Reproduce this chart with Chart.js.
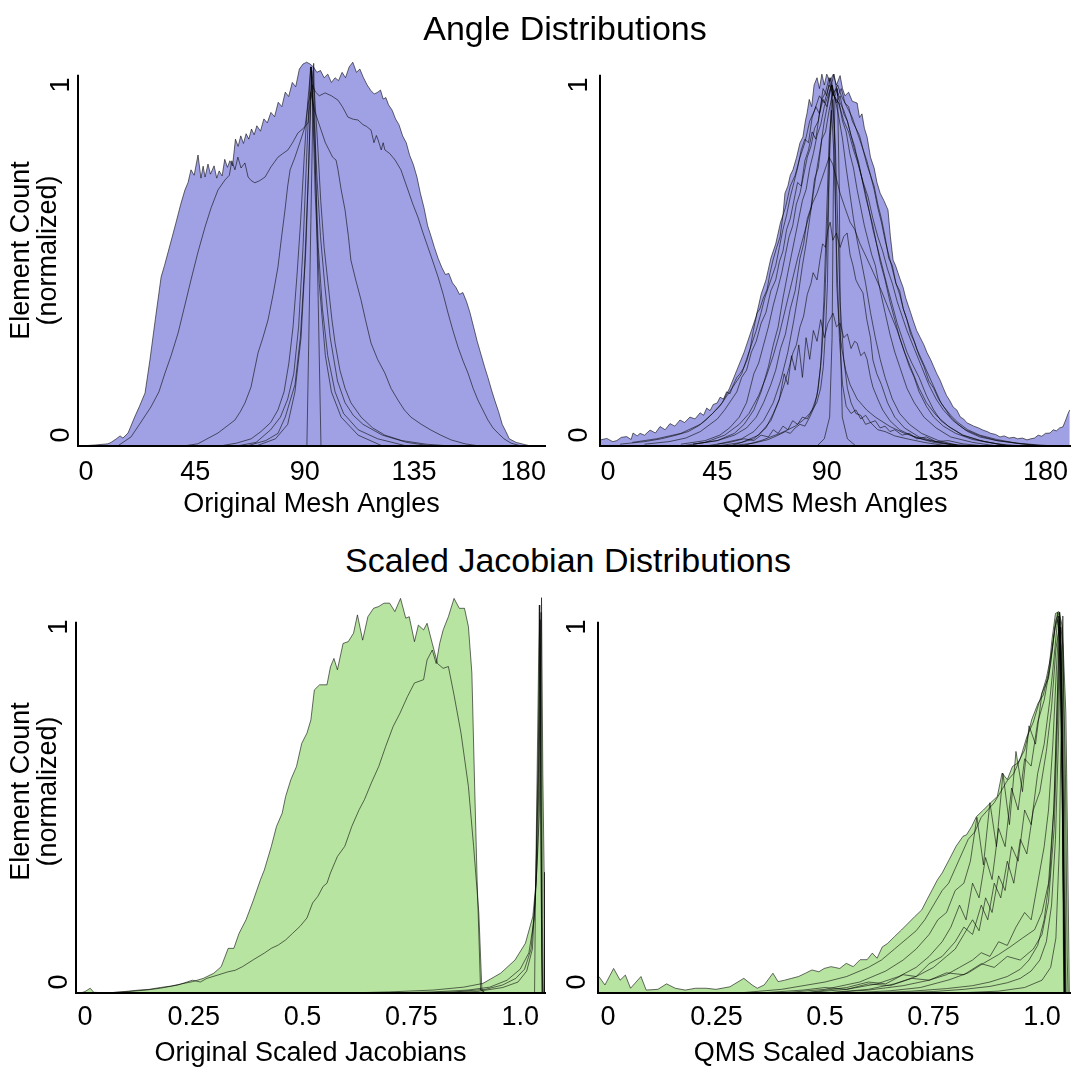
<!DOCTYPE html>
<html><head><meta charset="utf-8">
<script src="https://cdn.jsdelivr.net/npm/chart.js@4/dist/chart.umd.min.js"></script>
<style>
body{margin:0;background:#fff;width:1072px;height:1068px;position:relative;overflow:hidden;font-family:"Liberation Sans",Arial,sans-serif}
.t{position:absolute;font-size:34px;line-height:38px;color:#000;white-space:nowrap;transform:translateX(-50%);z-index:2}
canvas{position:absolute}
</style></head><body>
<div class="t" style="left:565px;top:9px">Angle Distributions</div>
<div class="t" style="left:568px;top:541px">Scaled Jacobian Distributions</div>
<canvas id="tl" width="560" height="490" style="left:0;top:40px"></canvas>
<canvas id="tr" width="512" height="490" style="left:560px;top:40px"></canvas>
<canvas id="bl" width="560" height="488" style="left:0;top:580px"></canvas>
<canvas id="br" width="512" height="488" style="left:560px;top:580px"></canvas>
<script>
// ---- tick labels ----
const ANGLE_TICKS = [0, 45, 90, 135, 180];
const ANGLE_TICK_LABELS = ['0', '45', '90', '135', '180'];
const JAC_TICKS = [0, 0.25, 0.5, 0.75, 1];
const JAC_TICK_LABELS = ['0', '0.25', '0.5', '0.75', '1.0'];
const Y_TICKS = [0, 1];
const Y_TICK_LABELS = ['0', '1'];

// ---- Original mesh angles (deg, normalized count) ----
const TL_A = [[-2,0],[4,0.003],[9,0.006],[10.3,0.01],[12.5,0.02],[14,0.028],[15.2,0.022],[17.3,0.036],[20,0.08],[22,0.11],[24.3,0.147],[26.3,0.238],[28.5,0.35],[30.9,0.468],[32.3,0.5],[33.7,0.535],[35.5,0.58],[37,0.618],[39,0.67],[40.7,0.709],[42,0.73],[43.2,0.765],[44.5,0.75],[46.1,0.806],[47.3,0.742],[48.2,0.775],[49,0.745],[50.2,0.781],[51.2,0.753],[52.7,0.776],[53.8,0.742],[54.8,0.762],[56,0.748],[57.1,0.794],[58.2,0.772],[59.2,0.79],[60.3,0.776],[61.5,0.85],[62.6,0.83],[63.7,0.859],[64.8,0.838],[65.9,0.865],[67,0.85],[68.1,0.878],[69.2,0.862],[70.3,0.887],[71.8,0.872],[73.2,0.906],[74.6,0.895],[76.1,0.924],[77.6,0.912],[79.1,0.952],[80.6,0.94],[82,0.98],[83.4,0.968],[84.9,1.007],[86.3,0.995],[87.8,1.044],[89.3,1.058],[90.8,1.063],[92.2,1.058],[93.6,1.05],[95,1.035],[96.5,1.04],[98,1.02],[99.5,1.03],[101,1.007],[102.5,1.02],[103.9,1.012],[105.4,1.035],[106.8,1.02],[108.3,1.05],[109.8,1.063],[111.3,1.035],[112.7,1.044],[114.2,1.02],[115.7,1.0],[117.2,0.985],[118.6,0.975],[120.1,0.98],[121.2,0.986],[122.3,0.961],[123.4,0.965],[124.5,0.945],[126,0.93],[127.4,0.906],[128.8,0.89],[130.3,0.859],[131.8,0.84],[133.2,0.805],[134.7,0.78],[136.2,0.745],[137.6,0.7],[139.1,0.66],[140.6,0.61],[142,0.581],[143.4,0.55],[144.9,0.52],[146.4,0.495],[147.9,0.475],[149.3,0.478],[150.8,0.452],[152.2,0.44],[153.7,0.42],[155.1,0.425],[156.6,0.4],[158,0.37],[159.5,0.33],[161,0.29],[162.5,0.255],[164,0.22],[165.4,0.19],[166.9,0.155],[168.3,0.125],[169.8,0.095],[171.3,0.06],[172.8,0.04],[174.2,0.02],[177,0.01],[180,0.005],[183,0]];
const TL_B = [[13,0],[18.5,0.025],[22,0.06],[26.7,0.108],[30,0.15],[32.5,0.202],[35,0.25],[37.9,0.313],[40.5,0.385],[43.2,0.46],[46,0.535],[49,0.607],[51.5,0.66],[54.3,0.709],[57.2,0.737],[59,0.75],[60,0.79],[61.3,0.765],[62.5,0.8],[63.8,0.77],[65.4,0.784],[66.7,0.745],[68,0.735],[69.5,0.729],[71.5,0.735],[73.7,0.745],[76.1,0.773],[79,0.8],[81,0.81],[83.1,0.82],[85,0.84],[87.2,0.867],[89.5,0.88],[91.4,0.895],[92.3,0.96],[93,1.0],[94.5,0.98],[96,0.97],[98.4,0.978],[101,0.97],[103.7,0.958],[105.5,0.94],[107.8,0.911],[110,0.905],[111.9,0.903],[114,0.89],[115.5,0.885],[117.3,0.875],[118.5,0.84],[119.5,0.86],[120.2,0.848],[121.5,0.82],[122.3,0.84],[123,0.82],[125,0.81],[127.2,0.792],[129.6,0.765],[132.5,0.709],[134.5,0.67],[136.6,0.634],[138.7,0.59],[140.7,0.551],[142.8,0.51],[144.9,0.468],[147,0.42],[149,0.368],[151,0.32],[153.1,0.274],[155.2,0.235],[157.2,0.202],[159.3,0.16],[161.3,0.127],[163.3,0.1],[165.4,0.072],[167.5,0.05],[169.5,0.036],[172,0.02],[174.9,0.008],[179,0]];
const TL_C = [[40,0],[46,0.006],[54.3,0.036],[58,0.055],[61.3,0.072],[63.5,0.095],[65.4,0.119],[67.9,0.163],[70.8,0.258],[72.8,0.3],[74.9,0.349],[77,0.42],[79,0.496],[80.5,0.58],[81.9,0.654],[83,0.72],[84,0.765],[86,0.8],[88,0.84],[90.1,0.884],[91.5,0.95],[92.5,0.98],[94,0.93],[95.5,0.9],[97,0.87],[98.5,0.84],[100,0.82],[101.5,0.8],[102.9,0.792],[103.7,0.765],[105,0.71],[106.6,0.654],[108,0.58],[109,0.515],[111,0.46],[113.2,0.404],[115,0.35],[117.3,0.285],[120,0.24],[123,0.202],[125.5,0.16],[128.4,0.127],[131,0.1],[133.7,0.08],[138,0.06],[142,0.044],[146,0.03],[150.2,0.017],[156,0.006],[162,0]];
const TL_D = [[55,0],[62,0.008],[68,0.02],[72,0.04],[76,0.065],[79,0.1],[81.5,0.15],[83.5,0.23],[85.2,0.33],[86.8,0.47],[88.3,0.62],[89.8,0.8],[91.2,0.95],[92.6,1.05],[94,0.98],[95.3,0.84],[96.6,0.68],[98,0.55],[99.6,0.45],[101.2,0.35],[102.5,0.285],[104.5,0.21],[106.6,0.16],[109,0.12],[113.2,0.08],[118,0.05],[123,0.03],[130,0.015],[140,0.005],[150,0]];
const TL_E = [[62,0],[70,0.01],[76,0.045],[80,0.08],[83,0.13],[85.5,0.2],[87.5,0.33],[89.3,0.55],[90.8,0.8],[92.4,1.05],[93.8,0.92],[95,0.75],[96.5,0.58],[98.2,0.45],[100.5,0.3],[103.5,0.18],[106.6,0.12],[110,0.085],[114,0.06],[122,0.03],[132,0.01],[142,0]];
const TL_F = [[66,0],[74,0.015],[79,0.035],[82,0.08],[86,0.17],[88.2,0.3],[90,0.5],[91.5,0.75],[92.8,1.05],[94.2,0.8],[95.6,0.55],[97.3,0.38],[99.5,0.25],[102.5,0.15],[106,0.09],[112,0.045],[120,0.02],[132,0]];
const TL_G = [[70,0],[78,0.02],[83,0.06],[86,0.15],[88.5,0.3],[90.5,0.55],[91.8,0.8],[92.9,1.04],[94.3,0.7],[96,0.45],[98.5,0.25],[101,0.15],[105,0.08],[112,0.03],[122,0]];
const TL_T = [[90.9,0],[93.7,1.06],[96.7,0]];

// ---- QMS mesh angles ----
const TR_1 = [[-3,0.017],[-0.5,0.021],[2,0.012],[3.6,0.015],[5.5,0.024],[7.7,0.026],[9.5,0.018],[10.3,0.036],[12,0.028],[13.2,0.035],[15,0.03],[17.3,0.044],[19.5,0.036],[21.4,0.054],[23.5,0.045],[25.5,0.062],[27.5,0.055],[29.6,0.072],[31.5,0.065],[33.7,0.08],[35.8,0.075],[37.9,0.092],[39.3,0.085],[40.6,0.105],[42,0.098],[43.3,0.115],[44.9,0.119],[46.1,0.135],[47.5,0.13],[48.8,0.15],[50.2,0.145],[51.6,0.17],[53,0.19],[54.3,0.2],[55.7,0.215],[57.2,0.238],[58.5,0.27],[59.8,0.32],[61.3,0.368],[62.5,0.38],[63.9,0.41],[65.4,0.432],[66.7,0.48],[67.9,0.515],[69.4,0.55],[70.8,0.579],[72,0.64],[72.8,0.7],[74,0.72],[75,0.75],[76.1,0.765],[77.6,0.8],[79,0.84],[80.2,0.856],[81.2,0.9],[81.9,0.922],[82.8,0.96],[83.8,0.94],[84.8,1.0],[86,1.02],[87,0.99],[88,1.03],[89,1.0],[90,1.03],[91.3,1.01],[92.7,1.03],[94,1.0],[95.5,1.026],[96.5,0.99],[97.5,0.97],[99,0.98],[100.5,0.955],[102.5,0.95],[103.5,0.91],[104.5,0.92],[105.5,0.88],[106.6,0.856],[108,0.8],[109.5,0.77],[110.7,0.729],[112,0.7],[113.5,0.68],[115.2,0.654],[116.2,0.58],[117.3,0.515],[118.3,0.5],[119.3,0.48],[120.3,0.46],[121.4,0.44],[122.5,0.41],[123.5,0.39],[124.5,0.37],[125.5,0.349],[127,0.32],[128.5,0.3],[130,0.28],[131.3,0.258],[132.7,0.24],[134,0.22],[135.3,0.2],[136.6,0.183],[138,0.16],[139.3,0.14],[140.7,0.125],[142,0.108],[143.5,0.1],[145,0.08],[146.3,0.075],[147.7,0.064],[149,0.06],[150.5,0.055],[152.5,0.05],[154.3,0.044],[156,0.04],[157.5,0.035],[159.5,0.032],[161.3,0.025],[163,0.028],[165,0.022],[167,0.024],[168.5,0.02],[170.5,0.022],[172.4,0.017],[174,0.02],[175.5,0.022],[177,0.03],[178.5,0.027],[180,0.035],[181.9,0.036],[183.2,0.045],[184.5,0.042],[185.8,0.05],[187.2,0.053],[188.5,0.075],[189.3,0.09],[190,0.1]];
const TR_2 = [[5,0.005],[15,0.012],[22,0.02],[28,0.03],[33,0.04],[37,0.055],[40,0.07],[43,0.09],[46,0.11],[49,0.14],[51,0.16],[53,0.18],[55,0.2],[57,0.24],[59,0.28],[61,0.32],[63,0.37],[64.5,0.41],[66,0.44],[67.5,0.47],[69,0.5],[70.5,0.55],[72,0.6],[73.5,0.64],[75,0.69],[76.5,0.73],[78,0.77],[79.5,0.82],[81,0.85],[82.5,0.84],[84,0.91],[85.5,0.94],[87,0.92],[88.5,0.99],[90,0.97],[91.5,1.02],[93,0.98],[94.5,1.0],[96,0.97],[97.5,0.95],[99,0.93],[100.5,0.91],[102,0.88],[103.5,0.85],[105,0.82],[106.5,0.78],[108,0.75],[109.5,0.71],[111,0.66],[112.5,0.62],[114,0.57],[115.5,0.53],[117,0.49],[118.5,0.45],[120,0.42],[121.5,0.38],[123,0.35],[125,0.31],[127,0.27],[129,0.24],[131,0.21],[133,0.18],[135,0.15],[137,0.12],[139,0.1],[141,0.08],[144,0.06],[148,0.04],[153,0.025],[160,0.015],[168,0.008],[177,0.003],[184,0]];
const TR_3 = [[15,0.005],[25,0.012],[32,0.022],[38,0.04],[42,0.06],[45,0.075],[48,0.1],[51,0.13],[53,0.15],[55,0.19],[57,0.21],[59,0.26],[61,0.29],[63,0.34],[65,0.37],[67,0.43],[69,0.46],[70.5,0.51],[72,0.54],[73.5,0.6],[75,0.63],[76.5,0.68],[78,0.73],[79.5,0.72],[81,0.79],[82.5,0.82],[84,0.87],[85.5,0.85],[87,0.92],[88.5,0.96],[90,0.94],[91.5,0.99],[93,1.03],[94.5,0.97],[96,0.99],[97.5,0.95],[99,0.94],[100.5,0.9],[102,0.88],[103.5,0.86],[105,0.82],[106.5,0.79],[108,0.75],[109.5,0.72],[111,0.67],[112.5,0.63],[114,0.58],[115.5,0.52],[117,0.5],[118.5,0.45],[120,0.43],[121.5,0.38],[123,0.35],[124.5,0.31],[126,0.29],[128,0.25],[130,0.22],[132,0.18],[134,0.16],[136,0.13],[138,0.11],[141,0.085],[144,0.065],[148,0.045],[153,0.03],[160,0.018],[168,0.008],[178,0]];
const TR_4 = [[30,0.005],[40,0.015],[46,0.03],[50,0.05],[54,0.08],[57,0.12],[60,0.2],[62,0.23],[64,0.28],[66,0.33],[68,0.39],[70,0.44],[71.5,0.48],[73,0.53],[74.5,0.58],[76,0.61],[77.5,0.67],[79,0.7],[80.5,0.75],[82,0.8],[83.5,0.83],[85,0.88],[86.5,0.9],[88,0.96],[89.5,0.98],[91,1.02],[92.5,0.97],[94,0.99],[95.5,0.95],[97,0.93],[98.5,0.9],[100,0.86],[101.5,0.83],[103,0.78],[104.5,0.74],[106,0.69],[107.5,0.65],[109,0.6],[110.5,0.56],[112,0.52],[113.5,0.48],[115,0.44],[117,0.39],[119,0.34],[121,0.3],[123,0.26],[125,0.23],[128,0.19],[131,0.14],[134,0.1],[137,0.07],[141,0.05],[146,0.03],[153,0.015],[165,0]];
const TR_5 = [[35,0.005],[45,0.015],[52,0.035],[56,0.06],[60,0.1],[63,0.15],[66,0.22],[68,0.28],[70,0.33],[72,0.41],[74,0.48],[75.5,0.53],[77,0.58],[78.5,0.63],[80,0.68],[81.5,0.71],[83,0.77],[84.5,0.81],[86,0.86],[87.5,0.89],[89,0.94],[90.5,0.97],[92,1.0],[93.5,0.96],[95,0.95],[96.5,0.9],[98,0.87],[99.5,0.81],[101,0.77],[102.5,0.71],[104,0.66],[105.5,0.61],[107,0.57],[108.5,0.53],[110,0.5],[112,0.43],[114,0.37],[116,0.31],[118,0.26],[120,0.22],[123,0.16],[126,0.12],[130,0.08],[135,0.05],[141,0.025],[150,0.01],[160,0]];
const TR_6 = [[35,0.005],[45,0.015],[52,0.03],[57,0.05],[61,0.08],[64,0.12],[67,0.17],[69,0.21],[71,0.27],[73,0.31],[75,0.38],[77,0.43],[79,0.52],[80.5,0.56],[82,0.63],[83.5,0.66],[85,0.74],[86.5,0.77],[88,0.85],[89.5,0.87],[91,0.93],[92.5,0.98],[94,0.95],[95.5,0.97],[97,0.92],[98.5,0.9],[100,0.86],[101.5,0.82],[103,0.79],[104.5,0.74],[106,0.7],[107.5,0.65],[109,0.61],[110.5,0.56],[112,0.51],[114,0.46],[116,0.4],[118,0.35],[120,0.3],[122,0.26],[124,0.22],[126,0.19],[128,0.15],[131,0.11],[134,0.08],[138,0.055],[143,0.035],[150,0.018],[160,0.006],[170,0]];
const TR_7 = [[45,0.005],[55,0.02],[60,0.04],[64,0.07],[68,0.12],[71,0.18],[74,0.26],[76.5,0.35],[78.5,0.43],[80,0.5],[81.5,0.56],[83,0.63],[84.5,0.7],[86,0.77],[87.5,0.83],[89,0.9],[90.5,0.95],[92,1.0],[93.5,0.96],[95,0.91],[96.5,0.85],[98,0.77],[99.5,0.7],[101,0.63],[102.5,0.57],[104,0.52],[106,0.45],[108,0.37],[110,0.3],[112,0.24],[114,0.19],[117,0.13],[120,0.09],[124,0.06],[129,0.035],[136,0.015],[145,0]];
const TR_8 = [[45,0],[55,0.01],[62,0.03],[67,0.07],[70,0.12],[72.5,0.17],[74.2,0.21],[76.1,0.258],[77.5,0.28],[79,0.33],[80.5,0.36],[82,0.42],[83.5,0.45],[84.4,0.48],[86,0.46],[87.2,0.515],[88.3,0.56],[89.5,0.55],[90.5,0.6],[91.4,0.62],[92.5,0.57],[94,0.59],[95.5,0.55],[97,0.58],[98.4,0.59],[99.6,0.53],[100.8,0.5],[102,0.46],[103.5,0.44],[104.9,0.424],[106.5,0.35],[108,0.3],[109,0.238],[110.6,0.2],[112.5,0.17],[115,0.12],[118,0.08],[122,0.05],[128,0.025],[136,0.01],[145,0]];
const TR_9 = [[50,0],[60,0.02],[65,0.05],[68,0.09],[70.5,0.13],[72.5,0.2],[74,0.17],[75.5,0.25],[77,0.21],[78.5,0.28],[80,0.19],[81.5,0.3],[83,0.24],[84.5,0.32],[86,0.29],[87.5,0.35],[89,0.3],[90.5,0.34],[92.6,0.368],[94,0.33],[95.5,0.34],[97,0.3],[98.5,0.31],[100,0.27],[101.5,0.29],[102.5,0.285],[104,0.25],[105.5,0.26],[106.6,0.24],[108,0.19],[109,0.163],[111,0.13],[113,0.1],[116,0.07],[120,0.045],[126,0.025],[134,0.01],[145,0]];
const TR_10 = [[55,0],[63,0.015],[68,0.028],[70.8,0.035],[74,0.045],[77,0.055],[80.4,0.072],[83,0.09],[85.9,0.12],[87.5,0.16],[88.6,0.22],[89.5,0.32],[90.3,0.45],[91.1,0.82],[92.2,1.0],[93.4,0.82],[94.1,0.45],[95,0.34],[96.2,0.27],[97.8,0.21],[99.6,0.17],[102.5,0.13],[106.4,0.1],[110,0.08],[116,0.054],[122,0.035],[130,0.018],[140,0.006],[150,0]];
const TR_11 = [[86,0],[89,0.02],[91.2,0.08],[92.2,0.3],[92.7,0.7],[93.4,0.97],[94.4,0.99],[95.2,0.7],[95.6,0.3],[96.4,0.08],[98.5,0.02],[102,0]];
const TR_12 = [[40,0],[50,0.01],[56,0.02],[60,0.015],[63,0.03],[66,0.025],[68,0.045],[70,0.035],[72,0.055],[74,0.045],[76,0.07],[78,0.06],[80,0.08],[82,0.075],[84,0.1],[86,0.14],[87.5,0.22],[88.8,0.4],[90,0.65],[91,0.85],[92,0.93],[93,0.8],[94,0.55],[95.2,0.3],[96.5,0.17],[98,0.11],[100,0.09],[102,0.1],[104,0.075],[106,0.085],[108,0.065],[110,0.07],[112,0.05],[114,0.055],[116,0.04],[118,0.045],[121,0.03],[124,0.035],[127,0.02],[131,0.025],[135,0.012],[140,0.015],[146,0.006],[155,0]];
const TR_13 = [[50,0],[60,0.008],[66,0.018],[70,0.03],[73,0.04],[75,0.035],[77,0.05],[79,0.06],[81,0.055],[83,0.08],[85,0.11],[86.5,0.16],[88,0.26],[89.3,0.42],[90.5,0.66],[91.5,0.86],[92.5,0.96],[93.5,0.84],[94.5,0.62],[95.5,0.4],[97,0.24],[98.5,0.16],[100,0.12],[102,0.09],[104,0.085],[106,0.06],[108,0.065],[111,0.045],[114,0.04],[118,0.028],[123,0.02],[130,0.01],[140,0]];
const TR_14 = [[30,0],[40,0.01],[48,0.03],[54,0.06],[58,0.09],[62,0.14],[65,0.19],[68,0.25],[70.5,0.31],[73,0.38],[75.5,0.45],[78,0.52],[80,0.57],[82,0.62],[84,0.67],[86,0.7],[88,0.74],[89.5,0.77],[91,0.8],[92.5,0.78],[94,0.74],[95.5,0.7],[97.5,0.66],[99.6,0.62],[101.5,0.6],[103.7,0.56],[106.5,0.52],[109.2,0.48],[112.5,0.43],[116,0.37],[119,0.32],[122,0.26],[125,0.21],[128,0.16],[131,0.12],[135,0.085],[140,0.055],[146,0.03],[155,0.012],[165,0]];
const TR_15 = [[10,0.01],[20,0.02],[30,0.035],[38,0.06],[43,0.09],[47,0.12],[50,0.16],[53,0.21],[56,0.26],[58.5,0.31],[61,0.36],[63,0.42],[65,0.46],[67,0.52],[69,0.56],[71,0.62],[73,0.66],[75,0.72],[77,0.75],[79,0.8],[81,0.84],[83,0.9],[85,0.93],[87,0.97],[89,0.95],[91,1.0],[93,0.97],[95,0.95],[97,0.9],[99,0.87],[101,0.82],[103,0.78],[105,0.73],[107,0.69],[109,0.63],[111,0.58],[113,0.54],[115,0.49],[117,0.45],[119,0.4],[121,0.36],[123,0.32],[126,0.27],[129,0.22],[132,0.17],[135,0.13],[138,0.1],[142,0.07],[147,0.045],[153,0.028],[160,0.015],[170,0.006],[180,0]];

// ---- Original scaled Jacobians ----
const BL_1 = [[-0.01,0],[0,0.004],[0.012,0.013],[0.02,0.002],[0.035,0.001],[0.06,0.001],[0.091,0.004],[0.124,0.008],[0.148,0.01],[0.173,0.015],[0.198,0.019],[0.222,0.025],[0.247,0.031],[0.272,0.04],[0.296,0.054],[0.313,0.072],[0.329,0.122],[0.342,0.122],[0.354,0.163],[0.37,0.2],[0.387,0.254],[0.403,0.309],[0.412,0.336],[0.428,0.4],[0.44,0.455],[0.453,0.491],[0.461,0.537],[0.473,0.583],[0.486,0.619],[0.498,0.682],[0.51,0.71],[0.519,0.746],[0.527,0.828],[0.539,0.842],[0.556,0.842],[0.564,0.891],[0.572,0.914],[0.58,0.883],[0.593,0.955],[0.605,0.96],[0.617,0.983],[0.626,1.033],[0.638,0.964],[0.65,1.028],[0.663,1.051],[0.675,1.056],[0.687,1.065],[0.7,1.065],[0.712,1.042],[0.725,1.078],[0.737,1.024],[0.745,1.028],[0.757,0.96],[0.766,1.005],[0.778,0.992],[0.786,1.01],[0.798,0.955],[0.81,0.9],[0.823,0.887],[0.835,0.892],[0.848,0.814],[0.864,0.71],[0.881,0.564],[0.893,0.4],[0.905,0.218],[0.912,0.008],[0.92,0]];
const BL_2 = [[0.049,0],[0.1,0.004],[0.14,0.008],[0.173,0.013],[0.214,0.022],[0.247,0.035],[0.265,0.03],[0.28,0.04],[0.305,0.049],[0.329,0.058],[0.345,0.062],[0.362,0.072],[0.387,0.091],[0.412,0.109],[0.428,0.122],[0.444,0.131],[0.461,0.145],[0.477,0.163],[0.494,0.182],[0.51,0.205],[0.523,0.246],[0.535,0.264],[0.547,0.291],[0.556,0.3],[0.564,0.328],[0.58,0.373],[0.597,0.401],[0.613,0.455],[0.63,0.501],[0.642,0.528],[0.658,0.574],[0.675,0.619],[0.691,0.674],[0.708,0.728],[0.724,0.765],[0.741,0.81],[0.757,0.847],[0.778,0.856],[0.786,0.91],[0.798,0.937],[0.807,0.9],[0.815,0.955],[0.823,0.992],[0.835,1.028],[0.848,1.078],[0.86,1.051],[0.872,1.051],[0.881,1.001],[0.889,0.874],[0.895,0.582],[0.901,0.31],[0.909,0.008],[0.92,0]];
const BL_3 = [[0.6,0],[0.7,0.003],[0.8,0.008],[0.87,0.016],[0.914,0.026],[0.955,0.054],[0.988,0.09],[1.012,0.136],[1.029,0.209],[1.037,0.309],[1.044,0.49],[1.047,0.855],[1.049,1.08],[1.052,0.6],[1.055,0.33],[1.056,0]];
const BL_4 = [[0.7,0],[0.8,0.003],[0.88,0.008],[0.93,0.016],[0.97,0.035],[1.0,0.065],[1.02,0.11],[1.032,0.2],[1.04,0.38],[1.045,0.75],[1.048,1.04],[1.051,0.2],[1.053,0]];
const BL_5 = [[0.75,0],[0.85,0.003],[0.92,0.01],[0.96,0.022],[0.99,0.04],[1.01,0.065],[1.025,0.12],[1.035,0.26],[1.042,0.6],[1.046,1.02],[1.05,0.1],[1.052,0]];
const BL_6 = [[0.8,0],[0.9,0.004],[0.96,0.015],[0.995,0.03],[1.015,0.06],[1.028,0.12],[1.036,0.3],[1.042,0.7],[1.045,1.06],[1.049,0.2],[1.051,0]];
const BL_7 = [[1.033,0],[1.035,0.25],[1.044,1.06],[1.05,0]];

// ---- QMS scaled Jacobians ----
const BR_1 = [[-0.021,0.045],[-0.007,0.022],[0.013,0.067],[0.028,0.035],[0.04,0.049],[0.052,0.013],[0.076,0.045],[0.088,0.008],[0.115,0.01],[0.135,0.025],[0.155,0.013],[0.178,0.008],[0.202,0.013],[0.226,0.013],[0.249,0.01],[0.281,0.017],[0.313,0.04],[0.332,0.022],[0.344,0.013],[0.36,0.022],[0.38,0.054],[0.392,0.031],[0.407,0.035],[0.423,0.04],[0.439,0.045],[0.455,0.054],[0.47,0.063],[0.486,0.058],[0.498,0.067],[0.514,0.072],[0.534,0.067],[0.549,0.081],[0.565,0.072],[0.581,0.091],[0.597,0.091],[0.609,0.109],[0.62,0.095],[0.632,0.126],[0.644,0.135],[0.66,0.154],[0.676,0.172],[0.692,0.191],[0.707,0.209],[0.723,0.227],[0.735,0.255],[0.747,0.282],[0.759,0.309],[0.77,0.328],[0.786,0.364],[0.802,0.401],[0.818,0.428],[0.826,0.432],[0.838,0.455],[0.849,0.482],[0.865,0.5],[0.881,0.519],[0.897,0.537],[0.908,0.601],[0.92,0.583],[0.932,0.619],[0.944,0.628],[0.96,0.664],[0.976,0.746],[0.991,0.792],[1.003,0.814],[1.015,0.874],[1.023,0.965],[1.031,1.037],[1.039,1.042],[1.047,1.001],[1.055,0.764],[1.059,0.401],[1.063,0]];
const BR_2 = [[0.3,0],[0.4,0.01],[0.5,0.03],[0.55,0.045],[0.6,0.07],[0.63,0.09],[0.66,0.12],[0.69,0.15],[0.71,0.17],[0.73,0.2],[0.75,0.24],[0.77,0.28],[0.785,0.3],[0.8,0.34],[0.815,0.38],[0.83,0.42],[0.845,0.44],[0.86,0.48],[0.875,0.5],[0.89,0.52],[0.905,0.55],[0.92,0.58],[0.935,0.6],[0.95,0.64],[0.965,0.7],[0.98,0.74],[0.995,0.8],[1.01,0.86],[1.022,0.93],[1.032,1.02],[1.04,1.04],[1.048,0.95],[1.054,0.6],[1.058,0.1],[1.06,0]];
const BR_3 = [[0.4,0],[0.5,0.01],[0.58,0.03],[0.64,0.06],[0.68,0.09],[0.71,0.12],[0.74,0.16],[0.76,0.2],[0.78,0.22],[0.8,0.28],[0.82,0.3],[0.835,0.36],[0.85,0.48],[0.865,0.35],[0.88,0.52],[0.895,0.4],[0.91,0.6],[0.925,0.46],[0.94,0.66],[0.955,0.55],[0.97,0.73],[0.985,0.68],[1.0,0.82],[1.015,0.86],[1.028,0.98],[1.036,1.04],[1.044,0.9],[1.05,0.4],[1.055,0]];
const BR_4 = [[0.45,0],[0.55,0.01],[0.62,0.025],[0.67,0.045],[0.71,0.07],[0.74,0.1],[0.77,0.14],[0.79,0.18],[0.81,0.24],[0.825,0.2],[0.84,0.3],[0.855,0.26],[0.87,0.37],[0.885,0.31],[0.9,0.45],[0.915,0.4],[0.93,0.56],[0.945,0.5],[0.96,0.64],[0.975,0.62],[0.99,0.74],[1.005,0.8],[1.02,0.9],[1.03,1.0],[1.038,1.03],[1.045,0.7],[1.05,0.2],[1.053,0]];
const BR_5 = [[0.5,0],[0.6,0.01],[0.66,0.025],[0.71,0.045],[0.75,0.07],[0.78,0.1],[0.8,0.12],[0.82,0.16],[0.84,0.2],[0.855,0.17],[0.87,0.26],[0.885,0.22],[0.9,0.32],[0.915,0.28],[0.93,0.4],[0.945,0.36],[0.96,0.5],[0.975,0.46],[0.99,0.6],[1.005,0.68],[1.018,0.8],[1.028,0.92],[1.036,1.02],[1.043,0.95],[1.049,0.3],[1.052,0]];
const BR_6 = [[0.5,0],[0.6,0.008],[0.68,0.02],[0.74,0.035],[0.78,0.05],[0.81,0.07],[0.84,0.09],[0.86,0.11],[0.88,0.1],[0.9,0.14],[0.92,0.13],[0.94,0.18],[0.96,0.22],[0.975,0.2],[0.99,0.3],[1.005,0.4],[1.015,0.5],[1.025,0.68],[1.033,0.88],[1.04,1.03],[1.046,0.8],[1.05,0.2],[1.053,0]];
const BR_7 = [[0.6,0],[0.7,0.005],[0.78,0.012],[0.84,0.02],[0.88,0.03],[0.92,0.045],[0.95,0.065],[0.97,0.09],[0.99,0.13],[1.005,0.2],[1.018,0.32],[1.028,0.52],[1.035,0.78],[1.041,1.02],[1.046,0.9],[1.05,0.3],[1.053,0]];
const BR_8 = [[0.65,0],[0.75,0.004],[0.82,0.01],[0.88,0.018],[0.92,0.028],[0.95,0.04],[0.975,0.06],[0.995,0.09],[1.01,0.14],[1.022,0.24],[1.031,0.42],[1.038,0.7],[1.043,1.0],[1.048,0.7],[1.052,0]];
const BR_9 = [[0.8,0],[0.9,0.005],[0.96,0.015],[1.0,0.035],[1.02,0.07],[1.032,0.15],[1.04,0.4],[1.045,0.8],[1.048,1.03],[1.052,0.5],[1.055,0]];
const BR_10 = [[0.45,0],[0.55,0.015],[0.6,0.03],[0.64,0.025],[0.68,0.05],[0.71,0.045],[0.74,0.08],[0.77,0.1],[0.8,0.14],[0.82,0.18],[0.84,0.16],[0.86,0.24],[0.875,0.2],[0.89,0.3],[0.905,0.26],[0.92,0.36],[0.935,0.3],[0.95,0.42],[0.965,0.38],[0.98,0.5],[0.995,0.55],[1.01,0.66],[1.022,0.78],[1.032,0.94],[1.04,1.0],[1.047,0.6],[1.051,0]];
const BR_11 = [[0.35,0],[0.45,0.008],[0.5,0.015],[0.55,0.01],[0.6,0.025],[0.65,0.02],[0.7,0.04],[0.74,0.035],[0.78,0.055],[0.82,0.05],[0.86,0.08],[0.89,0.07],[0.92,0.1],[0.95,0.09],[0.98,0.12],[1.0,0.16],[1.015,0.25],[1.028,0.45],[1.036,0.75],[1.042,1.0],[1.048,0.5],[1.052,0]];
const BR_12 = [[0.55,0],[0.65,0.006],[0.72,0.015],[0.786,0.036],[0.83,0.055],[0.865,0.081],[0.9,0.105],[0.928,0.127],[0.955,0.15],[0.983,0.173],[1.0,0.22],[1.015,0.3],[1.027,0.5],[1.035,0.8],[1.041,1.04],[1.047,0.5],[1.05,0]];

// ---- styling ----
const FONT = '"Liberation Sans", Arial, sans-serif';
const FONT_SIZE = 27;
const BLUE = '#a0a1e4';
const GREEN = '#b8e4a1';
const LINE_COLOR = 'rgba(0,0,0,0.72)';

const axisDecor = {
  id: 'axisDecor',
  afterDraw(chart, args, o) {
    const {ctx, chartArea} = chart;
    const y = chart.scales.y;
    ctx.save();
    ctx.strokeStyle = '#000';
    ctx.lineWidth = 2;
    ctx.beginPath();
    ctx.moveTo(chartArea.left, y.getPixelForValue(o.axisTop));
    ctx.lineTo(chartArea.left, chartArea.bottom + 1);
    ctx.stroke();
    ctx.fillStyle = '#000';
    ctx.font = FONT_SIZE + 'px ' + FONT;
    ctx.textAlign = 'center';
    ctx.textBaseline = 'middle';
    Y_TICKS.forEach((t, i) => {
      const py = y.getPixelForValue(t) + (t === 0 ? o.zeroShift : 0);
      ctx.save();
      ctx.translate(o.labelX, py);
      ctx.rotate(-Math.PI / 2);
      ctx.fillText(Y_TICK_LABELS[i], 0, 0);
      ctx.restore();
    });
    ctx.restore();
  }
};

function makeChart(id, series, o) {
  return new Chart(document.getElementById(id), {
    type: 'line',
    data: {
      datasets: series.map(s => ({
        data: s.map(p => ({x: p[0], y: p[1]})),
        fill: 'origin',
        backgroundColor: o.fillColor,
        borderColor: LINE_COLOR,
        borderWidth: 0.8,
        pointRadius: 0,
        tension: 0
      }))
    },
    options: {
      responsive: false,
      animation: false,
      events: [],
      layout: {padding: {top: o.padTop, right: o.padRight, left: 0, bottom: 0}},
      plugins: {
        legend: {display: false},
        tooltip: {enabled: false},
        filler: {drawTime: 'beforeDatasetsDraw'},
        axisDecor: {axisTop: o.axisTop, labelX: o.labelX, zeroShift: -11}
      },
      scales: {
        x: {
          type: 'linear', min: o.xMin, max: o.xMax,
          afterBuildTicks: s => { s.ticks = o.xTicks.map(v => ({value: v})); },
          afterFit: s => { s.height = o.xHeight; },
          ticks: {autoSkip: false, maxRotation: 0, minRotation: 0, padding: 0, color: '#000',
                  font: {family: FONT, size: FONT_SIZE}, callback: (v, i) => o.xLabels[i]},
          grid: {display: true, drawOnChartArea: false, drawTicks: true, tickLength: o.tickGap, color: 'rgba(0,0,0,0)'},
          border: {display: true, color: '#000', width: 2, z: 1},
          title: {display: true, text: o.xTitle, color: '#000', font: {family: FONT, size: FONT_SIZE},
                  padding: {top: 0, bottom: o.xTitlePad}}
        },
        y: {
          type: 'linear', min: 0, max: o.yMax,
          afterFit: s => { s.width = o.yWidth; },
          ticks: {display: false},
          grid: {display: false},
          border: {display: false},
          title: o.yTitle ? {display: true, text: ['Element Count', '(normalized)'], color: '#000',
                  font: {family: FONT, size: FONT_SIZE, lineHeight: 1.0}, padding: {top: 8.5, bottom: 0}} : {display: false}
        }
      }
    },
    plugins: [axisDecor]
  });
}

makeChart('tl', [TL_A, TL_B, TL_C, TL_D, TL_E, TL_F, TL_G, TL_T], {
  fillColor: BLUE, padTop: 15, padRight: 15, yWidth: 78, xHeight: 84, yMax: 1.083, axisTop: 1.028,
  xMin: -3.3, xMax: 188.9, xTicks: ANGLE_TICKS, xLabels: ANGLE_TICK_LABELS, tickGap: 10,
  xTitle: 'Original Mesh Angles', xTitlePad: 8.8, yTitle: true, labelX: 62
});
makeChart('tr', [TR_1, TR_2, TR_3, TR_15, TR_4, TR_5, TR_6, TR_14, TR_7, TR_8, TR_9, TR_10, TR_11, TR_12, TR_13], {
  fillColor: BLUE, padTop: 15, padRight: 2, yWidth: 40, xHeight: 84, yMax: 1.083, axisTop: 1.028,
  xMin: -3.3, xMax: 190.1, xTicks: ANGLE_TICKS, xLabels: ANGLE_TICK_LABELS, tickGap: 10,
  xTitle: 'QMS Mesh Angles', xTitlePad: 8.8, yTitle: false, labelX: 20
});
makeChart('bl', [BL_1, BL_2, BL_3, BL_4, BL_5, BL_6, BL_7], {
  fillColor: GREEN, padTop: 10, padRight: 15, yWidth: 76, xHeight: 75, yMax: 1.101, axisTop: 1.014,
  xMin: -0.0207, xMax: 1.057, xTicks: JAC_TICKS, xLabels: JAC_TICK_LABELS, tickGap: 8,
  xTitle: 'Original Scaled Jacobians', xTitlePad: -1.5, yTitle: true, labelX: 60
});
makeChart('br', [BR_1, BR_2, BR_3, BR_4, BR_5, BR_6, BR_7, BR_8, BR_9, BR_10, BR_11, BR_12], {
  fillColor: GREEN, padTop: 10, padRight: 2, yWidth: 38, xHeight: 75, yMax: 1.101, axisTop: 1.014,
  xMin: -0.023, xMax: 1.0645, xTicks: JAC_TICKS, xLabels: JAC_TICK_LABELS, tickGap: 8,
  xTitle: 'QMS Scaled Jacobians', xTitlePad: -1.5, yTitle: false, labelX: 18
});
</script>
</body></html>
